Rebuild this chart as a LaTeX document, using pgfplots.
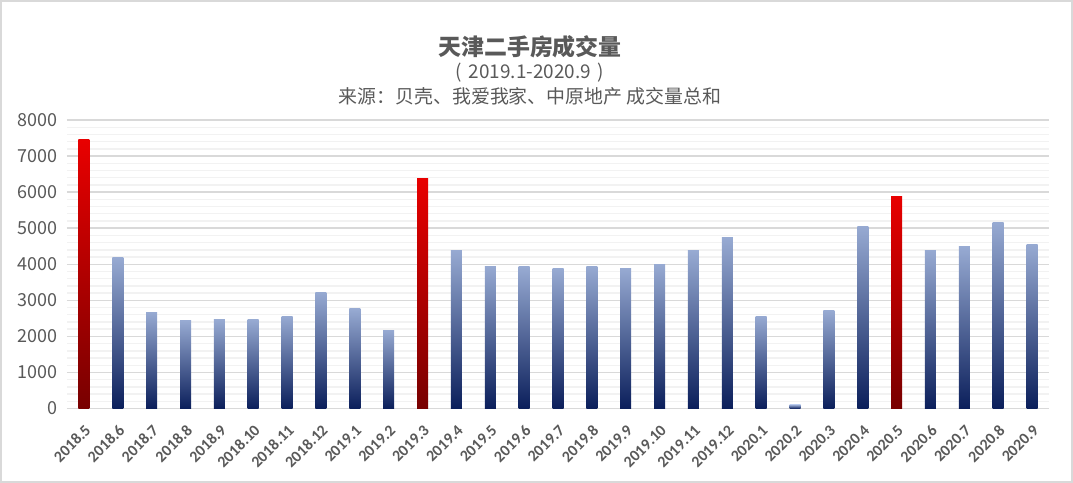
\documentclass[border=0pt]{standalone}
\usepackage{pgfplots}
\pgfplotsset{compat=1.18}
\usepackage{fontspec}
\setmainfont{Carlito}
\newfontfamily\cjk{Noto Sans CJK SC}
\definecolor{txt}{HTML}{595959}
\definecolor{majg}{HTML}{D9D9D9}
\definecolor{ming}{HTML}{F2F2F2}
\definecolor{bdark}{HTML}{0B1F5B}
\definecolor{blight}{HTML}{97AAD2}
\definecolor{rdark}{HTML}{780000}
\definecolor{rlight}{HTML}{E80000}
\pgfplotsset{
  bb/.style={ybar, bar width=11bp, bar shift=0pt, draw=none, top color=blight, bottom color=bdark},
  rb/.style={ybar, bar width=11bp, bar shift=0pt, draw=none, top color=rlight, bottom color=rdark},
}
\begin{document}
\begin{tikzpicture}
\path[use as bounding box] (-67bp,-74.5bp) rectangle (1006bp,408.5bp);
\draw[majg, line width=2bp] (-66bp,-73.5bp) rectangle (1005bp,407.5bp);
\begin{axis}[
  at={(0,0)}, anchor=south west,
  scale only axis, width=982bp, height=288.5bp,
  xmin=-0.5, xmax=28.5, ymin=0, ymax=8000,
  axis lines*=left,
  y axis line style={draw=none},
  x axis line style={draw=majg, line width=1.5bp},
  ytick={0,1000,...,8000},
  minor y tick num=4,
  ymajorgrids, yminorgrids,
  major grid style={draw=majg, line width=1.4bp},
  minor grid style={draw=ming, line width=1.4bp},
  major tick length=0pt, minor tick length=0pt,
  xtick={0,...,28},
  xticklabels={2018.5,2018.6,2018.7,2018.8,2018.9,2018.10,2018.11,2018.12,2019.1,2019.2,2019.3,2019.4,2019.5,2019.6,2019.7,2019.8,2019.9,2019.10,2019.11,2019.12,2020.1,2020.2,2020.3,2020.4,2020.5,2020.6,2020.7,2020.8,2020.9},
  xticklabel style={font=\fontsize{16}{16}\selectfont\bfseries, text=txt, xshift=4bp, yshift=-19bp, rotate=45, anchor=east, inner sep=0pt},
  yticklabel style={font=\cjk\fontsize{18}{18}\selectfont, text=txt, anchor=east, xshift=-9bp, inner sep=0pt},
  /pgf/number format/assume math mode=true,
  yticklabel={\pgfmathprintnumber[fixed,1000 sep={}]{\tick}},
  clip=false,
]
\addplot[rb] coordinates {(0,7450)};
\addplot[bb] coordinates {(1,4175)};
\addplot[bb] coordinates {(2,2675)};
\addplot[bb] coordinates {(3,2430)};
\addplot[bb] coordinates {(4,2455)};
\addplot[bb] coordinates {(5,2455)};
\addplot[bb] coordinates {(6,2565)};
\addplot[bb] coordinates {(7,3230)};
\addplot[bb] coordinates {(8,2760)};
\addplot[bb] coordinates {(9,2175)};
\addplot[rb] coordinates {(10,6390)};
\addplot[bb] coordinates {(11,4395)};
\addplot[bb] coordinates {(12,3950)};
\addplot[bb] coordinates {(13,3925)};
\addplot[bb] coordinates {(14,3870)};
\addplot[bb] coordinates {(15,3950)};
\addplot[bb] coordinates {(16,3895)};
\addplot[bb] coordinates {(17,3980)};
\addplot[bb] coordinates {(18,4370)};
\addplot[bb] coordinates {(19,4730)};
\addplot[bb] coordinates {(20,2565)};
\addplot[bb] coordinates {(21,100)};
\addplot[bb] coordinates {(22,2705)};
\addplot[bb] coordinates {(23,5060)};
\addplot[rb] coordinates {(24,5890)};
\addplot[bb] coordinates {(25,4395)};
\addplot[bb] coordinates {(26,4480)};
\addplot[bb] coordinates {(27,5170)};
\addplot[bb] coordinates {(28,4560)};
\end{axis}
\node[text=txt, font=\cjk\bfseries\fontsize{23}{23}\selectfont] at (463bp,361.5bp) {天津二手房成交量};
\node[text=txt, font=\cjk\fontsize{19}{19}\selectfont] at (463bp,335.5bp) {(\hspace{0.35em}2019.1-2020.9\hspace{0.35em})};
\node[text=txt, font=\cjk\fontsize{19}{19}\selectfont] at (463bp,312.5bp) {来源：贝壳、我爱我家、中原地产 成交量总和};
\end{tikzpicture}
\end{document}
